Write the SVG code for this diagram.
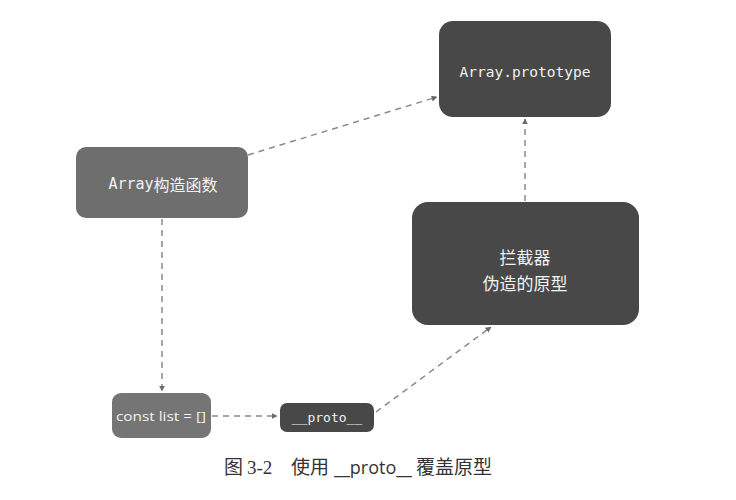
<svg xmlns="http://www.w3.org/2000/svg" width="736" height="500" viewBox="0 0 736 500">
  <style>
    .dark { fill: #484848; }
    .mid { fill: #6e6e6e; }
    .light { fill: #757575; }
    .lbl { fill: #f2f2f2; text-anchor: middle; dominant-baseline: central; }
    .mono { font-family: "DejaVu Sans Mono", "Liberation Mono", monospace; }
    .cjk { font-family: "Noto Sans CJK SC", sans-serif; }
    .edge { fill: none; stroke: #8a8a8a; stroke-width: 1.5; stroke-dasharray: 6 5; marker-end: url(#arrow); }
    .cap { fill: #333; font-size: 19px; }
  </style>
  <defs>
    <marker id="arrow" viewBox="0 0 10 10" refX="9" refY="5" markerWidth="6" markerHeight="6" orient="auto" markerUnits="userSpaceOnUse">
      <path d="M0,0 L10,5 L0,10 z" fill="#6a6a6a"/>
    </marker>
  </defs>
  <rect width="736" height="500" fill="#ffffff"/>

  <g id="connectors">
    <path class="edge" d="M248,155 L437,97"/>
    <path class="edge" d="M162,219 L162,391"/>
    <path class="edge" d="M212,416 L277,416"/>
    <path class="edge" d="M376,412 L491,327"/>
    <path class="edge" d="M525,201 L525,119"/>
  </g>

  <g id="array-prototype">
    <rect class="dark" x="439" y="21" width="172" height="96" rx="14"/>
    <text class="lbl mono" x="525" y="72" font-size="14.5">Array.prototype</text>
  </g>

  <g id="array-constructor">
    <rect class="mid" x="76" y="147" width="172" height="71" rx="10"/>
    <text class="lbl" x="163" y="184" font-size="16"><tspan class="mono" font-size="15">Array</tspan><tspan class="cjk">构造函数</tspan></text>
  </g>

  <g id="interceptor">
    <rect class="dark" x="412" y="202" width="227" height="123" rx="16"/>
    <text class="lbl cjk" x="525" y="256" font-size="17">拦截器</text>
    <text class="lbl cjk" x="525" y="282" font-size="17">伪造的原型</text>
  </g>

  <g id="const-list">
    <rect class="light" x="112" y="393" width="99" height="45" rx="9"/>
    <text class="lbl" x="161" y="416" font-size="13" font-family="Open Sans, sans-serif" textLength="90" lengthAdjust="spacingAndGlyphs">const list = []</text>
  </g>

  <g id="proto">
    <rect class="dark" x="280" y="403" width="94" height="29" rx="7"/>
    <text class="lbl mono" x="327" y="417" font-size="13">__proto__</text>
  </g>

  <g id="caption" class="cap">
    <text x="224" y="474" font-family="Noto Sans CJK SC, sans-serif">图</text>
    <text x="247" y="474" font-family="Liberation Serif, serif">3-2</text>
    <text x="291" y="474" font-family="Noto Sans CJK SC, sans-serif">使用</text>
    <text x="334" y="474" font-family="Open Sans, sans-serif" textLength="78" lengthAdjust="spacingAndGlyphs">__proto__</text>
    <text x="416" y="474" font-family="Noto Sans CJK SC, sans-serif">覆盖原型</text>
  </g>
</svg>
